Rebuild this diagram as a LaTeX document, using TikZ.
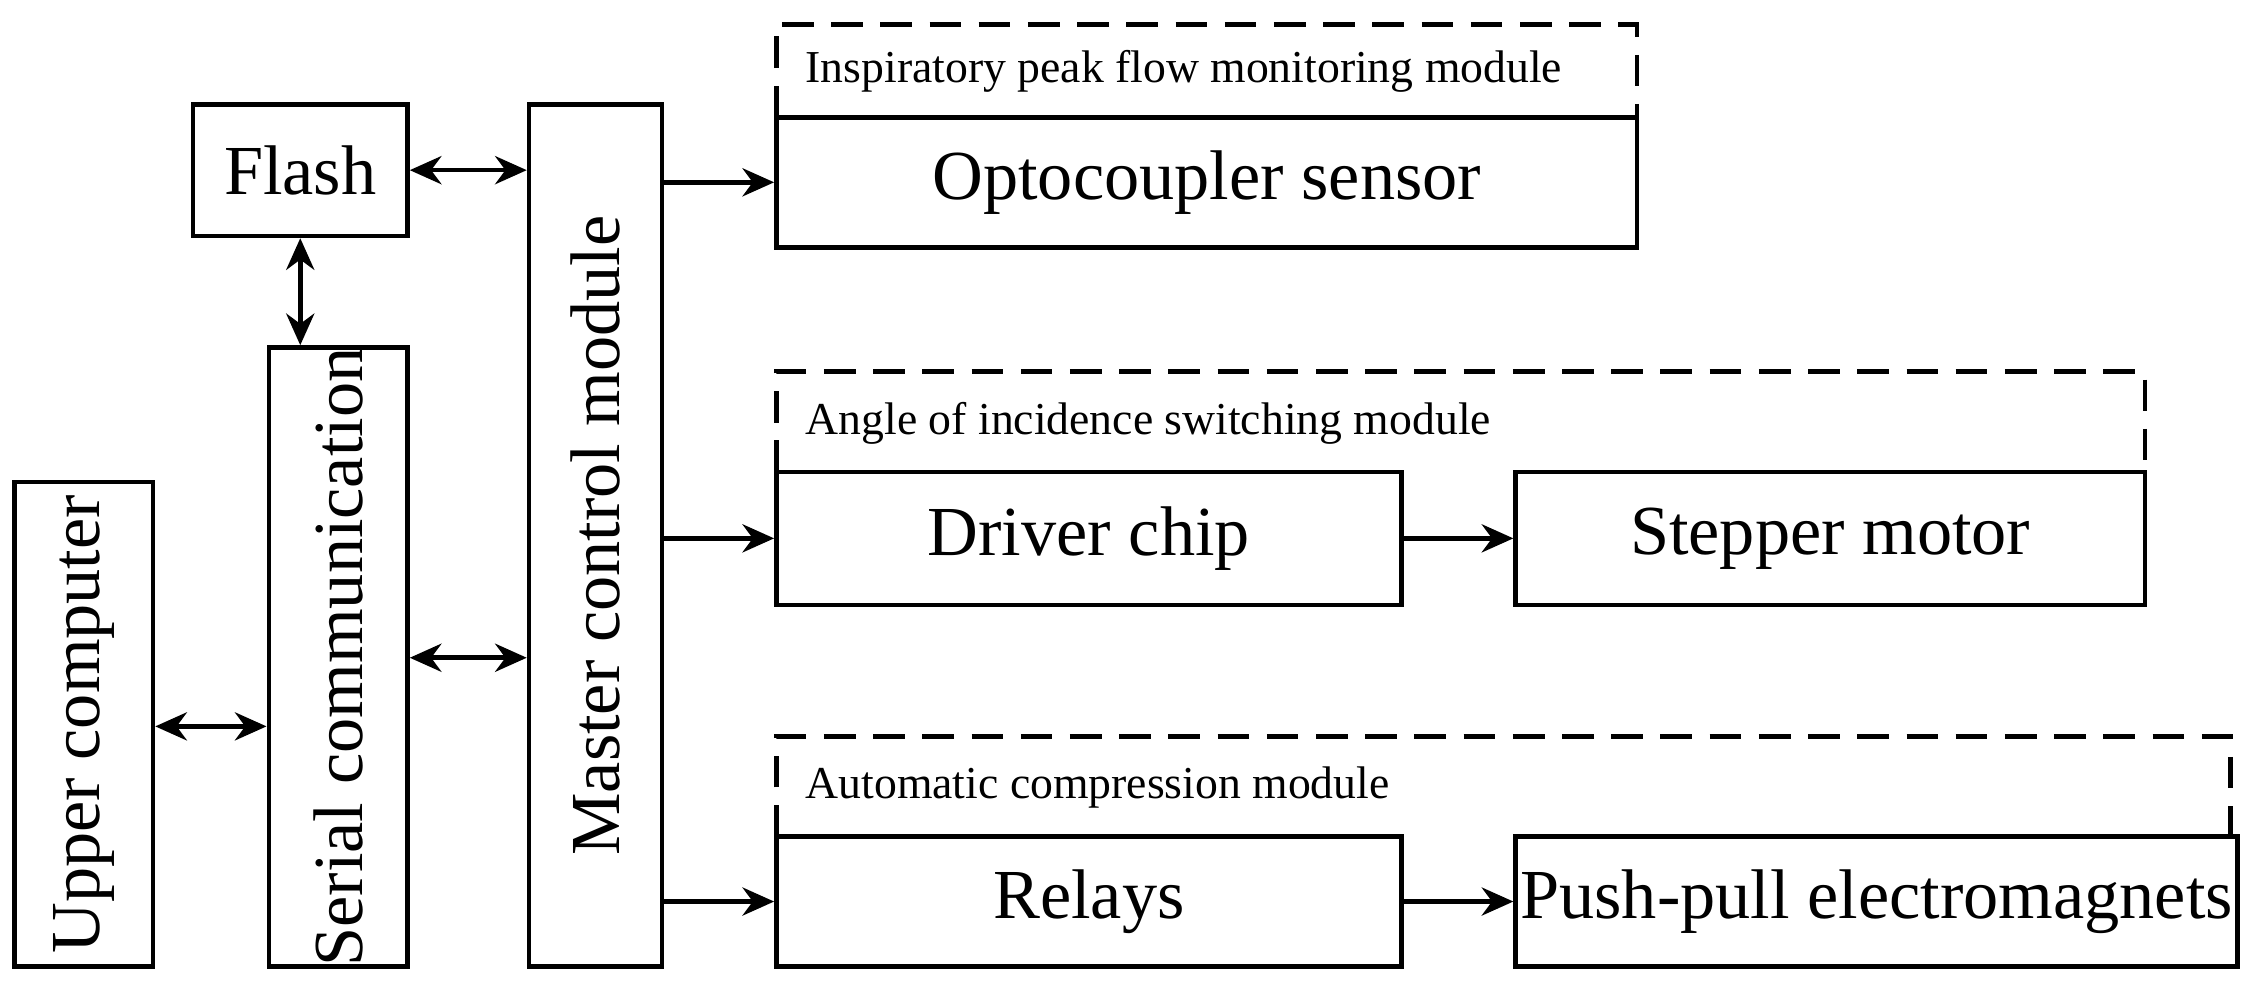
\documentclass[tikz,border=0pt]{standalone}
\usepackage{fontspec}
\setmainfont{Liberation Serif}
\usetikzlibrary{positioning, arrows.meta}
\tikzset{
	blk/.style={draw, line width=1.3pt, inner sep=0pt, font=\fontsize{20}{24}\selectfont},
	lbl/.style={anchor=west, inner sep=0pt, font=\fontsize{13}{15}\selectfont},
	grp/.style={draw, line width=1.3pt, dash pattern=on 9pt off 5pt},
	arrow/.style={line width=1.3pt, -{Stealth[length=9pt,width=8pt]}},
	darrow/.style={line width=1.3pt, {Stealth[length=9pt,width=8pt]}-{Stealth[length=9pt,width=8pt]}}
}
\begin{document}
\begin{tikzpicture}[x=0.0143cm, y=-0.0143cm]
	\useasboundingbox (0,0) rectangle (1568,692.4);
	
	\node (upper) at (58.5,506.5) [blk, minimum width=97\pgflinewidth, minimum height=339*0.0143cm, minimum width=97*0.0143cm, rotate=90, minimum width=339*0.0143cm, minimum height=97*0.0143cm] {Upper computer};
	\node (serial) at (236.5,459.5) [blk, rotate=90, minimum width=433*0.0143cm, minimum height=97*0.0143cm] {Serial communication};
	\node (flash) at (210,119) [blk, minimum width=150*0.0143cm, minimum height=92*0.0143cm] {Flash};
	\node (master) at (416.5,374.5) [blk, rotate=90, minimum width=603*0.0143cm, minimum height=93*0.0143cm] {Master control module};
	\node (opto) at (844,127.5) [blk, minimum width=602*0.0143cm, minimum height=91*0.0143cm] {Optocoupler sensor};
	\node (driver) at (761.5,376.5) [blk, minimum width=437*0.0143cm, minimum height=93*0.0143cm] {Driver chip};
	\node (stepper) at (1280,376.5) [blk, minimum width=440*0.0143cm, minimum height=93*0.0143cm] {Stepper motor};
	\node (relays) at (761.5,630.5) [blk, minimum width=437*0.0143cm, minimum height=91*0.0143cm] {Relays};
	\node (push) at (1312.5,630.5) [blk, minimum width=505*0.0143cm, minimum height=91*0.0143cm] {Push-pull electromagnets};
	
	% module groups
	\draw[grp] (543,82) -- (543,17) -- (1145,17) -- (1145,82);
	\draw[grp] (543,330) -- (543,260) -- (1500,260) -- (1500,330);
	\draw[grp] (543,585) -- (543,515) -- (1560,515) -- (1560,585);
	\node (lblInsp) at (563,50) [lbl] {Inspiratory peak flow monitoring module};
	\node (lblAngle) at (563,296) [lbl] {Angle of incidence switching module};
	\node (lblAuto) at (563,551) [lbl] {Automatic compression module};
	
	\draw[darrow] (upper.south |- 0,508) -- (serial.north |- 0,508);
	\draw[darrow] (flash.south) -- (flash.south |- serial.east);
	\draw[darrow] (flash.east) -- (master.north |- flash.east);
	\draw[darrow] (serial.south |- 0,460) -- (master.north |- 0,460);
	\draw[arrow] (master.south |- opto.west) -- (opto.west);
	\draw[arrow] (master.south |- driver.west) -- (driver.west);
	\draw[arrow] (master.south |- relays.west) -- (relays.west);
	\draw[arrow] (driver) -- (stepper);
	\draw[arrow] (relays) -- (push);
\end{tikzpicture}
\end{document}
